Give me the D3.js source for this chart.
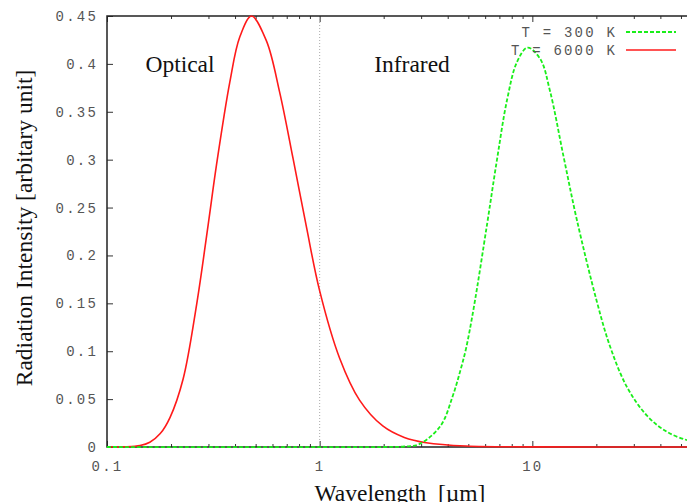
<!DOCTYPE html>
<html>
<head>
    <meta charset="utf-8">
    <title>Blackbody radiation</title>
    <script src="https://cdnjs.cloudflare.com/ajax/libs/d3/7.8.5/d3.min.js"></script>
    <style>
        body { margin: 0; background: #fff; }
        .tick text, .legend text {
            font: 14px "Liberation Mono", monospace;
            fill: #555;
            letter-spacing: 2.2px;
        }
        .label {
            font: 23.5px "Liberation Serif", serif;
            fill: #111;
        }
    </style>
</head>
<body>
<svg id="chart" width="687" height="502"></svg>
<script>
    // wavelengths in micrometre, intensities
    var redWave = [0.1, 0.12, 0.143, 0.159, 0.178, 0.198, 0.228, 0.264, 0.299, 0.327, 0.378, 0.421, 0.478,
        0.562, 0.649, 0.75, 0.866, 1.0, 1.24, 1.54, 1.98, 2.5, 3.17, 4.88, 10, 60];
    var redValue = [0, 0.0002, 0.0015, 0.005, 0.014, 0.031, 0.071, 0.149, 0.232, 0.294, 0.381, 0.428, 0.45,
        0.424, 0.37, 0.301, 0.23, 0.163, 0.093, 0.049, 0.022, 0.01, 0.0045, 0.001, 0.0001, 0];

    var greenWave = [0.1, 2.0, 2.5, 2.94, 3.7, 4.22, 4.59, 4.88, 5.3, 6.12, 6.82, 7.6, 8.47, 9.5,
        10.9, 12.1, 14.0, 16.2, 20.1, 23.2, 27.8, 34.5, 42.8, 53.2, 60];
    var greenValue = [0, 0, 0.0005, 0.003, 0.022, 0.053, 0.08, 0.103, 0.145, 0.232, 0.3, 0.362, 0.402, 0.417,
        0.405, 0.372, 0.304, 0.237, 0.152, 0.105, 0.063, 0.033, 0.016, 0.0073, 0.005];

    var yTicks = [0, 0.05, 0.1, 0.15, 0.2, 0.25, 0.3, 0.35, 0.4, 0.45];
    var xMajor = [0.1, 1, 10];
    var xMinor = [0.2, 0.3, 0.4, 0.5, 0.6, 0.7, 0.8, 0.9, 2, 3, 4, 5, 6, 7, 8, 9, 20, 30, 40, 50, 60, 70, 80, 90];

    var svg = d3.select("#chart");

    var plotLeft = 107, plotTop = 16, plotBottom = 447, plotRight = 745;
    // the right side of the frame lies outside the picture
    var x = d3.scaleLog().domain([0.1, 100]).range([plotLeft, plotRight]);
    var y = d3.scaleLinear().domain([0, 0.45]).range([plotBottom, plotTop]);

    var fmt = function(d) { return d === 0 ? "0" : String(d); };
    var noDomain = function(g) { g.select(".domain").remove(); };

    // x ticks, bottom and top, pointing inward
    svg.append("g")
        .attr("transform", "translate(0," + plotBottom + ")")
        .call(d3.axisBottom(x).tickValues(xMajor).tickSize(-6).tickPadding(14).tickFormat(fmt))
        .call(noDomain);
    svg.append("g")
        .attr("transform", "translate(0," + plotBottom + ")")
        .call(d3.axisBottom(x).tickValues(xMinor).tickSize(-3).tickFormat(""))
        .call(noDomain);
    svg.append("g")
        .attr("transform", "translate(0," + plotTop + ")")
        .call(d3.axisTop(x).tickValues(xMajor).tickSize(-6).tickFormat(""))
        .call(noDomain);
    svg.append("g")
        .attr("transform", "translate(0," + plotTop + ")")
        .call(d3.axisTop(x).tickValues(xMinor).tickSize(-3).tickFormat(""))
        .call(noDomain);

    svg.append("g")
        .attr("transform", "translate(" + plotLeft + ",0)")
        .call(d3.axisLeft(y).tickValues(yTicks).tickSize(-6).tickPadding(9).tickFormat(fmt))
        .call(noDomain);

    svg.selectAll(".tick line").attr("stroke", "#333");

    // dotted divider at 1 micron
    svg.append("line")
        .attr("x1", x(1)).attr("x2", x(1))
        .attr("y1", plotTop).attr("y2", plotBottom)
        .attr("stroke", "#aaa")
        .attr("stroke-dasharray", "1,2");

    var line = d3.line()
        .x(function(d) { return x(d[0]); })
        .y(function(d) { return y(Math.max(0, d[1])); })
        .curve(d3.curveCatmullRom.alpha(0.5));

    var red = d3.zip(redWave, redValue);
    var green = d3.zip(greenWave, greenValue);

    // frame
    svg.append("path")
        .attr("d", "M" + plotRight + "," + plotTop + "H" + plotLeft + "V" + plotBottom + "H" + plotRight)
        .attr("fill", "none")
        .attr("stroke", "#222")
        .attr("stroke-width", 1.5);

    svg.append("path")
        .datum(red)
        .attr("d", line)
        .attr("fill", "none")
        .attr("stroke", "#ff1a1a")
        .attr("stroke-width", 1.6);

    svg.append("path")
        .datum(green)
        .attr("d", line)
        .attr("fill", "none")
        .attr("stroke", "#1aee1a")
        .attr("stroke-width", 1.8)
        .attr("stroke-dasharray", "4,2");

    // region labels
    svg.append("text").attr("class", "label")
        .attr("x", 180).attr("y", 72).attr("text-anchor", "middle").text("Optical");
    svg.append("text").attr("class", "label")
        .attr("x", 412).attr("y", 72).attr("text-anchor", "middle").text("Infrared");

    // legend
    var legend = svg.append("g").attr("class", "legend");
    var legendRows = [
        { name: "T = 300 K", color: "#1aee1a", dash: "4,2", width: 1.8 },
        { name: "T = 6000 K", color: "#ff1a1a", dash: null, width: 1.6 }
    ];
    legendRows.forEach(function(r, i) {
        var ly = 32 + i * 18;
        legend.append("text")
            .attr("x", 617).attr("y", ly).attr("dy", "0.35em")
            .attr("text-anchor", "end")
            .attr("xml:space", "preserve")
            .text(r.name);
        legend.append("line")
            .attr("x1", 626).attr("x2", 676)
            .attr("y1", ly).attr("y2", ly)
            .attr("stroke", r.color)
            .attr("stroke-width", r.width)
            .attr("stroke-dasharray", r.dash);
    });

    // axis titles
    svg.append("text").attr("class", "label")
        .attr("transform", "translate(32,228) rotate(-90)")
        .attr("text-anchor", "middle")
        .text("Radiation Intensity [arbitary unit]");
    svg.append("text").attr("class", "label")
        .attr("x", 400).attr("y", 501)
        .attr("text-anchor", "middle")
        .attr("xml:space", "preserve")
        .text("Wavelength  [\u00b5m]");
</script>
</body>
</html>
